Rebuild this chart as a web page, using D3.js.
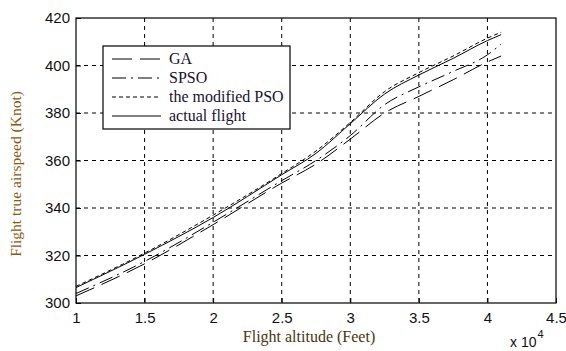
<!DOCTYPE html>
<html>
<head>
<meta charset="utf-8">
<script src="https://cdn.jsdelivr.net/npm/d3@7"></script>
<style>
  body { margin: 0; background: #fff; }
  svg { display: block; }
</style>
</head>
<body>
<div id="chart"></div>
<script>
// Altitude samples (feet) and airspeed (knot) for each method
const altitude = [10000, 15000, 20000, 25000, 27500, 30000, 32500, 35000, 37500, 40000, 41000];
const gaSpeed = [303, 316.5, 333, 350.5, 358.5, 369, 380, 387, 394, 401.5, 404];
const spsoSpeed = [304, 317.5, 334, 351.5, 360, 370.5, 383.5, 391, 397.5, 404.5, 409];
const modifiedSpeed = [307, 321, 337, 354.5, 364, 376, 389, 397, 404, 411.5, 414];
const actualSpeed = [306.5, 320.5, 336, 354, 363, 375.5, 388, 396, 403, 410.5, 413];

const xTicks = [10000, 15000, 20000, 25000, 30000, 35000, 40000, 45000];
const yTicks = [300, 320, 340, 360, 380, 400, 420];

const seriesNames = ["GA", "SPSO", "the modified PSO", "actual flight"];
const seriesValues = [gaSpeed, spsoSpeed, modifiedSpeed, actualSpeed];
const dashes = ["20,8", "14,5,2,5", "4,3", null];

const W = 566, H = 351;
const margin = {top: 18, right: 10, bottom: 48, left: 76};
const width = W - margin.left - margin.right,
      height = H - margin.top - margin.bottom;

const svg = d3.select("#chart").append("svg")
    .attr("width", W)
    .attr("height", H);

const g = svg.append("g")
    .attr("transform", `translate(${margin.left},${margin.top})`);

const x = d3.scaleLinear().domain([10000, 45000]).range([0, width]);
const y = d3.scaleLinear().domain([300, 420]).range([height, 0]);

// grid
g.append("g").selectAll("line")
    .data(xTicks.slice(1, -1))
    .join("line")
    .attr("x1", d => x(d)).attr("x2", d => x(d))
    .attr("y1", 0).attr("y2", height)
    .attr("stroke", "#000").attr("stroke-width", 1)
    .attr("stroke-dasharray", "4,4");
g.append("g").selectAll("line")
    .data(yTicks.slice(1, -1))
    .join("line")
    .attr("x1", 0).attr("x2", width)
    .attr("y1", d => y(d)).attr("y2", d => y(d))
    .attr("stroke", "#000").attr("stroke-width", 1)
    .attr("stroke-dasharray", "4,4");

// axes
const xAxis = g.append("g")
    .attr("transform", `translate(0,${height})`)
    .call(d3.axisBottom(x).tickValues(xTicks).tickSize(-5).tickPadding(9)
        .tickFormat(d => d3.format("~g")(d / 10000)));
const yAxis = g.append("g")
    .call(d3.axisLeft(y).tickValues(yTicks).tickSize(-5).tickPadding(6));
[xAxis, yAxis].forEach(a => {
  a.select(".domain").remove();
  a.selectAll("text")
    .style("font-family", "'Liberation Sans', Arial, sans-serif")
    .style("font-size", "15px")
    .attr("fill", "#111");
});

// frame
g.append("rect")
    .attr("width", width).attr("height", height)
    .attr("fill", "none").attr("stroke", "#000").attr("stroke-width", 1.2);

// series
const line = d3.line()
    .x((d, i) => x(altitude[i]))
    .y(d => y(d))
    .curve(d3.curveMonotoneX);

seriesValues.forEach((vals, i) => {
  g.append("path")
    .datum(vals)
    .attr("d", line)
    .attr("fill", "none")
    .attr("stroke", "#000")
    .attr("stroke-width", 1)
    .attr("stroke-dasharray", dashes[i]);
});

// legend
const legend = svg.append("g").attr("transform", "translate(103,46)");
legend.append("rect")
    .attr("width", 187).attr("height", 83)
    .attr("fill", "#fff").attr("stroke", "#000").attr("stroke-width", 1.2);
seriesNames.forEach((name, i) => {
  const ly = 13 + i * 19;
  legend.append("line")
    .attr("x1", 9).attr("x2", 58)
    .attr("y1", ly).attr("y2", ly)
    .attr("stroke", "#000").attr("stroke-width", 1)
    .attr("stroke-dasharray", dashes[i]);
  legend.append("text")
    .attr("x", 66).attr("y", ly + 5)
    .style("font-family", "'Liberation Serif', 'Times New Roman', serif")
    .style("font-size", "16px")
    .attr("fill", "#1a1030")
    .text(name);
});

// axis titles
svg.append("text")
    .attr("x", 309).attr("y", 342)
    .attr("text-anchor", "middle")
    .style("font-family", "'Liberation Serif', 'Times New Roman', serif")
    .style("font-size", "16px")
    .attr("fill", "#4a3410")
    .text("Flight altitude (Feet)");

svg.append("text")
    .attr("transform", "translate(21,174) rotate(-90)")
    .attr("text-anchor", "middle")
    .style("font-family", "'Liberation Serif', 'Times New Roman', serif")
    .style("font-size", "15.5px")
    .attr("fill", "#8a5a12")
    .text("Flight true airspeed (Knot)");

// exponent label
const expo = svg.append("text")
    .attr("x", 510).attr("y", 347)
    .style("font-family", "'Liberation Sans', Arial, sans-serif")
    .style("font-size", "14px")
    .attr("fill", "#111");
expo.append("tspan").text("x 10");
expo.append("tspan").attr("dx", 1).attr("dy", -9).style("font-size", "11px").text("4");
</script>
</body>
</html>
